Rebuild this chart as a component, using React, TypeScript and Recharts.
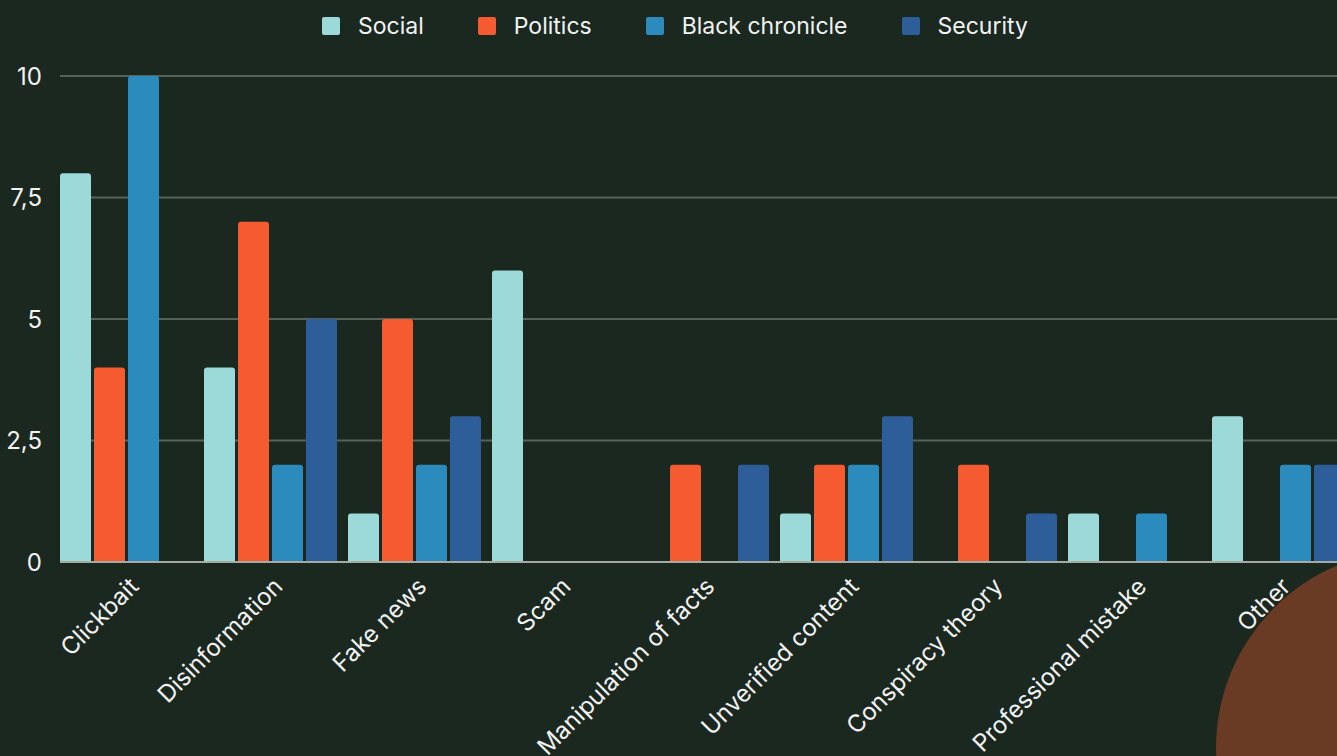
import { BarChart, Bar, XAxis, YAxis, CartesianGrid, Legend } from 'recharts';

// categories + values per series
const categories = [
  'Clickbait',
  'Disinformation',
  'Fake news',
  'Scam',
  'Manipulation of facts',
  'Unverified content',
  'Conspiracy theory',
  'Professional mistake',
  'Other',
];
const social = [8, 4, 1, 6, 0, 1, 0, 1, 3];
const politics = [4, 7, 5, 0, 2, 2, 2, 0, 0];
const blackChronicle = [10, 2, 2, 0, 0, 2, 0, 1, 2];
const security = [0, 5, 3, 0, 2, 3, 1, 0, 2];
const yTicks = [0, 2.5, 5, 7.5, 10];

const series = [
  { key: 'social', name: 'Social', color: '#9cd9d9' },
  { key: 'politics', name: 'Politics', color: '#f55a31' },
  { key: 'black', name: 'Black chronicle', color: '#2b8bbc' },
  { key: 'security', name: 'Security', color: '#2e5e99' },
];

const data = categories.map((name, i) => ({
  name,
  social: social[i],
  politics: politics[i],
  black: blackChronicle[i],
  security: security[i],
}));

const FONT = 'Inter, "Noto Sans", sans-serif';
const BG = '#1b2820';

function LegendRow() {
  return (
    <div style={{ display: 'flex', justifyContent: 'center', gap: 54, height: 40, alignItems: 'center', paddingLeft: 13 }}>
      {series.map(s => (
        <div key={s.key} style={{ display: 'flex', alignItems: 'center', gap: 18 }}>
          <span style={{ width: 18, height: 18, borderRadius: 2, background: s.color, display: 'inline-block' }} />
          <span style={{ color: '#f2f2f2', fontSize: 23, fontFamily: FONT }}>{s.name}</span>
        </div>
      ))}
    </div>
  );
}

function XTick(props: any) {
  const { x, y, payload } = props;
  const tx = x + 14;
  const ty = y + 18;
  return (
    <text
      x={tx}
      y={ty}
      transform={`rotate(-45, ${tx}, ${ty})`}
      textAnchor="end"
      fill="#f2f2f2"
      fontSize={24}
      fontFamily={FONT}
    >
      {payload.value}
    </text>
  );
}

export default function App() {
  return (
    <div
      style={{
        position: 'fixed',
        left: 0,
        top: 0,
        width: 1337,
        height: 756,
        overflow: 'hidden',
        background: BG,
      }}
    >
      {/* decorative circle in the corner */}
      <div
        style={{
          position: 'absolute',
          left: 1414 - 198,
          top: 748 - 198,
          width: 396,
          height: 396,
          borderRadius: '50%',
          background: '#693a24',
        }}
      />
      <div style={{ position: 'absolute', left: 0, top: 0 }}>
        <BarChart
          width={1356}
          height={756}
          data={data}
          margin={{ top: 36, right: 0, bottom: 0, left: 0 }}
          barSize={31}
          barGap={3}
        >
          <Legend verticalAlign="top" align="center" content={() => <LegendRow />} wrapperStyle={{ top: 6, left: 0, width: 1337 }} />
          <CartesianGrid vertical={false} stroke="#56615a" strokeWidth={2} />
          <XAxis
            dataKey="name"
            interval={0}
            tick={<XTick />}
            tickLine={false}
            axisLine={{ stroke: '#a5aaa4', strokeWidth: 2 }}
            padding={{ left: -6, right: 6 }}
            height={194}
          />
          <YAxis
            domain={[0, 10]}
            ticks={yTicks}
            tickFormatter={(v: number) => String(v).replace('.', ',')}
            tick={{ fill: '#f2f2f2', fontSize: 24, fontFamily: FONT }}
            tickLine={false}
            axisLine={false}
            tickSize={0}
            tickMargin={18}
            width={60}
          />
          {series.map(s => (
            <Bar
              key={s.key}
              dataKey={s.key}
              name={s.name}
              fill={s.color}
              radius={[3, 3, 0, 0]}
              isAnimationActive={false}
            />
          ))}
        </BarChart>
      </div>
    </div>
  );
}
